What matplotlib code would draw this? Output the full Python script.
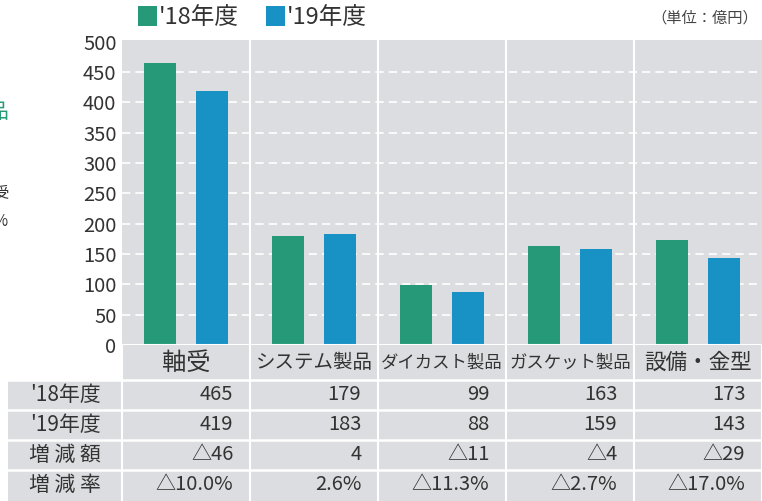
import matplotlib
matplotlib.use("Agg")
import matplotlib.pyplot as plt
from matplotlib.patches import Rectangle
import numpy as np

plt.rcParams['font.family'] = ['Noto Sans CJK JP', 'DejaVu Sans']

# data
categories = ['軸受', 'システム製品', 'ダイカスト製品', 'ガスケット製品', '設備・金型']
sales_18 = [465, 179, 99, 163, 173]
sales_19 = [419, 183, 88, 159, 143]
diff_labels = ['△46', '4', '△11', '△4', '△29']
rate_labels = ['△10.0%', '2.6%', '△11.3%', '△2.7%', '△17.0%']
row_labels = ["'18年度", "'19年度", '増 減 額', '増 減 率']
legend_labels = ["'18年度", "'19年度"]
yticks = [0, 50, 100, 150, 200, 250, 300, 350, 400, 450, 500]

green = '#269a78'
blue = '#1892c4'
bg = '#dcdde0'
txt = '#333333'

W, H = 762, 501
fig = plt.figure(figsize=(W / 100, H / 100), dpi=100)

# main bar chart
ax = fig.add_axes([122 / W, (H - 345) / H, 640 / W, 305 / H])
ax.set_facecolor(bg)
x = np.arange(len(categories))
ax.bar(x - 0.205, sales_18, width=0.25, color=green, zorder=3)
ax.bar(x + 0.2, sales_19, width=0.25, color=blue, zorder=3)
ax.set_xlim(-0.5, len(categories) - 0.5)
ax.set_ylim(0, 503)
ax.set_yticks(yticks)
ax.set_yticklabels([str(v) for v in yticks], fontsize=14.5, color=txt)
ax.set_xticks([])
ax.tick_params(axis='y', length=0, pad=4)
for s in ax.spines.values():
    s.set_visible(False)
for v in yticks[1:-1]:
    ax.axhline(v, color='white', lw=1.2, ls=(0, (5, 3)), zorder=1)
ax.axhline(0, color='white', lw=1.5, zorder=4)
for b in x[:-1] + 0.5:
    ax.axvline(b, color='white', lw=1.5, zorder=2)

# table below
tx0 = -0.5 - 114 / 128
ax_t = fig.add_axes([8 / W, 0, (W - 8) / W, 156 / H])
ax_t.set_xlim(tx0, len(categories) - 0.5)
ax_t.set_ylim(156, 0)
ax_t.axis('off')
ax_t.add_patch(Rectangle((-0.5, 0), len(categories), 35, color=bg, lw=0))
ax_t.add_patch(Rectangle((tx0, 35), len(categories) + 0.5 - tx0, 121, color=bg, lw=0))
for yy in [35, 65, 95, 125]:
    ax_t.plot([tx0, len(categories) - 0.5], [yy, yy], color='white', lw=1.8)
for b in list(x - 0.5) + [len(categories) - 0.5]:
    ax_t.plot([b, b], [0, 156], color='white', lw=1.5)

cat_sizes = [17.5, 14, 12.5, 12.5, 15.5]
for i, c in enumerate(categories):
    ax_t.text(i, 17.5, c, ha='center', va='center', fontsize=cat_sizes[i], color=txt)

rows = [[str(v) for v in sales_18], [str(v) for v in sales_19], diff_labels, rate_labels]
row_y = [50, 80, 110, 140]
for r, (lab, vals) in enumerate(zip(row_labels, rows)):
    ax_t.text((tx0 - 0.5) / 2, row_y[r], lab, ha='center', va='center', fontsize=15, color=txt)
    for i, v in enumerate(vals):
        ax_t.text(i + 0.37, row_y[r], v, ha='right', va='center', fontsize=14.5, color=txt)

# legend
for lx, col, lab in zip([138, 266], [green, blue], legend_labels):
    fig.patches.append(Rectangle((lx / W, (H - 26) / H), 19 / W, 20 / H,
                                 transform=fig.transFigure, color=col, lw=0))
    fig.text((lx + 21) / W, (H - 17) / H, lab, ha='left', va='center', fontsize=17, color=txt)

fig.text(758 / W, (H - 18) / H, '（単位：億円）', ha='right', va='center', fontsize=11, color='#444444')

# clipped fragments from neighbouring page
fig.text(8 / W, (H - 112) / H, '品', ha='right', va='center', fontsize=15, color=green)
fig.text(8 / W, (H - 193) / H, '受', ha='right', va='center', fontsize=11, color=txt)
fig.text(8 / W, (H - 221) / H, '%', ha='right', va='center', fontsize=11, color=txt)

fig.savefig('out.png', dpi=100)
